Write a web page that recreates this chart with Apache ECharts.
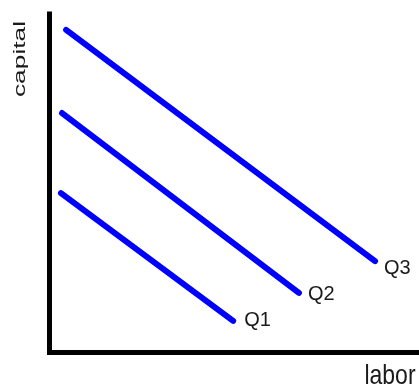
<!DOCTYPE html>
<html>
<head>
<meta charset="utf-8">
<script src="https://cdn.jsdelivr.net/npm/echarts@6/dist/echarts.min.js"></script>
<style>html,body{margin:0;padding:0;background:#fff}#c{width:419px;height:387px}</style>
</head>
<body>
<div id="c"></div>
<script>
// Isoquant lines: [labor, capital] at start and end
var seriesNames = ['Q1', 'Q2', 'Q3'];
var q1 = [[0.31, 4.70], [4.97, 0.92]];
var q2 = [[0.34, 7.07], [6.75, 1.75]];
var q3 = [[0.45, 9.53], [8.81, 2.69]];
var xName = 'labor';
var yName = 'capital';

var chart = echarts.init(document.getElementById('c'));
var labelOffsets = [[3, 0], [1, 2], [1, 7]];
var allData = [q1, q2, q3];
var series = allData.map(function (d, i) {
  return {
    type: 'line',
    name: seriesNames[i],
    data: d,
    symbol: 'none',
    silent: true,
    lineStyle: { color: '#0000ff', width: 6, cap: 'round' },
    endLabel: {
      show: true,
      formatter: '{a}',
      color: '#1a1a1a',
      fontFamily: 'Liberation Sans',
      fontSize: 20,
      offset: labelOffsets[i]
    }
  };
});
chart.setOption({
  animation: false,
  grid: { left: 49.5, right: 0, top: 14, bottom: 35 },
  xAxis: {
    type: 'value', min: 0, max: 10,
    axisLine: { show: true, lineStyle: { color: '#000', width: 5, cap: 'square' } },
    axisTick: { show: false }, axisLabel: { show: false }, splitLine: { show: false }
  },
  yAxis: {
    type: 'value', min: 0, max: 10,
    axisLine: { show: true, lineStyle: { color: '#000', width: 5, cap: 'square' } },
    axisTick: { show: false }, axisLabel: { show: false }, splitLine: { show: false }
  },
  graphic: [
    {
      type: 'text', x: 20, y: 59, rotation: Math.PI / 2, scaleX: 1.55,
      style: { text: yName, fill: '#1a1a1a', font: '17px "Liberation Sans"', textAlign: 'center', textVerticalAlign: 'middle' }
    },
    {
      type: 'text', x: 390, y: 376, scaleY: 1.2,
      style: { text: xName, fill: '#1a1a1a', font: '23px "Liberation Sans"', textAlign: 'center', textVerticalAlign: 'middle' }
    }
  ],
  series: series
});
</script>
</body>
</html>
